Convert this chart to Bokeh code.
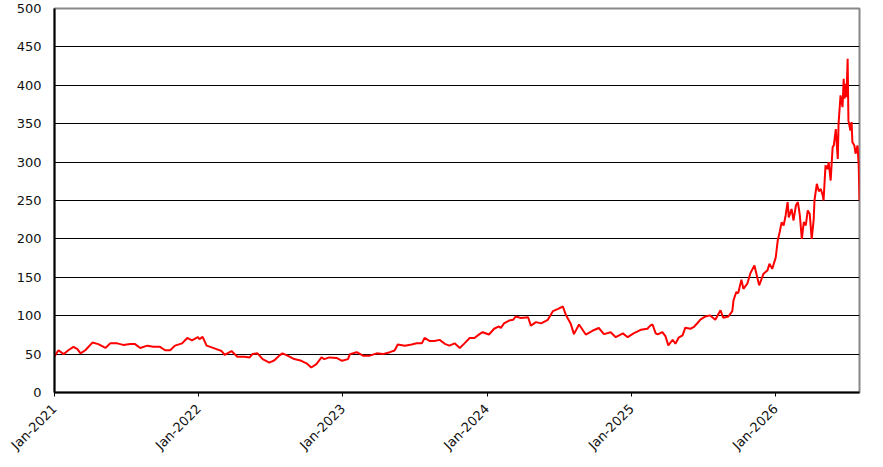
from datetime import datetime
from math import pi

import pandas as pd
from bokeh.embed import file_html
from bokeh.models import DatetimeTickFormatter, FixedTicker
from bokeh.plotting import figure
from bokeh.resources import INLINE

# values
dates = [
    "2021-01-01", "2021-01-11", "2021-01-24", "2021-02-05", "2021-02-18", "2021-02-28",
    "2021-03-08", "2021-03-20", "2021-04-07", "2021-04-22", "2021-05-10", "2021-05-22",
    "2021-06-09", "2021-06-24", "2021-07-12", "2021-07-24", "2021-08-06", "2021-08-24",
    "2021-09-08", "2021-09-25", "2021-10-08", "2021-10-21", "2021-11-02", "2021-11-20",
    "2021-12-03", "2021-12-15", "2021-12-30",
    "2022-01-03", "2022-01-11", "2022-01-21", "2022-02-03", "2022-02-15", "2022-02-28",
    "2022-03-08", "2022-03-25", "2022-04-09", "2022-04-27", "2022-05-10", "2022-05-17",
    "2022-05-30", "2022-06-12", "2022-06-29", "2022-07-12", "2022-07-24", "2022-08-01",
    "2022-08-14", "2022-08-31", "2022-09-18", "2022-10-01", "2022-10-13", "2022-10-26",
    "2022-11-08", "2022-11-15", "2022-11-28", "2022-12-16", "2022-12-30",
    "2023-01-14", "2023-01-19", "2023-02-05", "2023-02-21", "2023-03-10", "2023-03-28",
    "2023-04-12", "2023-04-30", "2023-05-12", "2023-05-20", "2023-06-07", "2023-06-24",
    "2023-07-07", "2023-07-20", "2023-07-27", "2023-08-09", "2023-08-21", "2023-09-03",
    "2023-09-16", "2023-09-28", "2023-10-11", "2023-10-24", "2023-11-05", "2023-11-18",
    "2023-11-30", "2023-12-13", "2023-12-21",
    "2024-01-06", "2024-01-19", "2024-01-31", "2024-02-05", "2024-02-13", "2024-02-26",
    "2024-03-07", "2024-03-14", "2024-03-27", "2024-04-14", "2024-04-21", "2024-05-04",
    "2024-05-17", "2024-06-03", "2024-06-16", "2024-06-29", "2024-07-11", "2024-07-19",
    "2024-07-31", "2024-08-08", "2024-08-21", "2024-09-07", "2024-09-25", "2024-10-10",
    "2024-10-23", "2024-11-09", "2024-11-22", "2024-12-10", "2024-12-22",
    "2025-01-06", "2025-01-24", "2025-02-10", "2025-02-18", "2025-02-23", "2025-03-03",
    "2025-03-08", "2025-03-20", "2025-03-28", "2025-04-04", "2025-04-15", "2025-04-22",
    "2025-04-30", "2025-05-10", "2025-05-17", "2025-05-30", "2025-06-07", "2025-06-17",
    "2025-06-24", "2025-07-07", "2025-07-19", "2025-08-01", "2025-08-14", "2025-08-21",
    "2025-09-03", "2025-09-13", "2025-09-16", "2025-09-23", "2025-09-28", "2025-10-06",
    "2025-10-11", "2025-10-21", "2025-10-29", "2025-11-08", "2025-11-13", "2025-11-20",
    "2025-12-01", "2025-12-11", "2025-12-16", "2025-12-23",
    "2026-01-01", "2026-01-06", "2026-01-11", "2026-01-16", "2026-01-21", "2026-01-26",
    "2026-01-31", "2026-02-03", "2026-02-10", "2026-02-15", "2026-02-21", "2026-02-26",
    "2026-03-03", "2026-03-08", "2026-03-13", "2026-03-18", "2026-03-23", "2026-03-28",
    "2026-04-02", "2026-04-07", "2026-04-09", "2026-04-15", "2026-04-20", "2026-04-25",
    "2026-04-30", "2026-05-02", "2026-05-07", "2026-05-12", "2026-05-15", "2026-05-20",
    "2026-05-25", "2026-05-28", "2026-06-02", "2026-06-07", "2026-06-09", "2026-06-14",
    "2026-06-19", "2026-06-22", "2026-06-24", "2026-06-27", "2026-06-29", "2026-07-02",
    "2026-07-04", "2026-07-09", "2026-07-12", "2026-07-14", "2026-07-19", "2026-07-22",
    "2026-07-27", "2026-07-30", "2026-08-01",
]
values = [
    47, 55, 50, 55, 59.5, 56.5,
    51, 55, 65, 63, 58, 64,
    64, 62, 63, 63, 58, 61,
    59.5, 59.5, 55, 55, 61, 64,
    71, 68, 72,
    69.5, 72.5, 61, 58.7, 56.5, 54,
    49, 54, 46.5, 46.5, 45.7, 50,
    51, 43.5, 39, 42, 48, 51,
    48, 43.5, 41.3, 38, 32.6, 37,
    45.7, 43.5, 45.7, 45, 41.3,
    43.5, 50, 52.5, 48, 48, 51,
    50, 52.5, 54.7, 62.5, 61, 62.5,
    64, 64, 71, 67, 67, 68.5,
    63.4, 61, 64, 58, 64, 71,
    71, 76, 78.5,
    75.5, 83, 86, 84, 90, 93.7,
    94.6, 99, 97, 98, 87, 91.6,
    90, 94.6, 106, 109, 112, 100.5,
    89.4, 76, 88.5, 75.5, 80.7, 84,
    76, 78.5, 72, 77, 72,
    77, 81.6, 83, 87.4, 88.5, 77,
    75.7, 78.7, 73, 61.4, 68.7, 63.5,
    71.4, 74.4, 84.4, 83, 85, 90.5,
    94.8, 99, 100.4, 94.8, 107, 97.4,
    99, 106, 120, 130.8, 129.5, 147,
    135, 141.7, 155.5, 165.5, 154.7, 139.5,
    154.7, 159, 167.7, 161,
    176, 198, 209, 221.8, 217.5, 230.5,
    248, 228, 239, 224, 243.5, 248,
    230.5, 200, 222, 217.5, 237, 232.6,
    200, 225, 250, 271.7, 262, 265,
    256.6, 250, 295.7, 291, 300, 276,
    319.5, 321.7, 343, 304, 350, 386.8,
    371.6, 408.5, 382.5, 402, 384.6, 434.5,
    354, 341, 352, 326, 321.7, 311,
    321.7, 295.7, 250,
]
year_ticks = ["2021-01-01", "2022-01-01", "2023-01-01", "2024-01-01", "2025-01-01", "2026-01-01"]
value_ticks = [0, 50, 100, 150, 200, 250, 300, 350, 400, 450, 500]

x = pd.to_datetime(dates)

p = figure(frame_width=805, frame_height=384,
           min_border_left=54, min_border_right=16, min_border_top=8, min_border_bottom=67,
           x_axis_type="datetime",
           x_range=(datetime(2021, 1, 1), datetime(2026, 8, 1)), y_range=(0, 500),
           output_backend="svg", toolbar_location=None)

p.line(x, values, line_color="#ff0000", line_width=2)

# rahmen und gitter
p.outline_line_color = "#888888"
p.outline_line_width = 2
p.xgrid.visible = False
p.ygrid.grid_line_color = "black"
p.ygrid.grid_line_width = 1
p.ygrid.ticker = FixedTicker(ticks=value_ticks)

p.yaxis.ticker = FixedTicker(ticks=value_ticks)
p.xaxis.ticker = FixedTicker(ticks=[pd.Timestamp(t).value // 10**6 for t in year_ticks])
fmt = "%b-%Y"
p.xaxis.formatter = DatetimeTickFormatter(days=fmt, months=fmt, years=fmt)
p.xaxis.major_label_orientation = pi / 4

for ax in (p.xaxis, p.yaxis):
    ax.axis_line_color = "black"
    ax.axis_line_width = 2
    ax.minor_tick_line_color = None
    ax.major_label_text_font = "DejaVu Sans"
    ax.major_label_text_font_size = "13px"
    ax.major_label_text_color = "#111111"

p.yaxis.major_tick_out = 0
p.yaxis.major_tick_in = 0
p.yaxis.major_tick_line_color = None
p.yaxis.major_label_standoff = 13
p.xaxis.major_tick_out = 4
p.xaxis.major_tick_in = 0
p.xaxis.major_tick_line_color = "black"
p.xaxis.major_label_standoff = 10

open("out.html", "w").write(file_html(p, INLINE))
